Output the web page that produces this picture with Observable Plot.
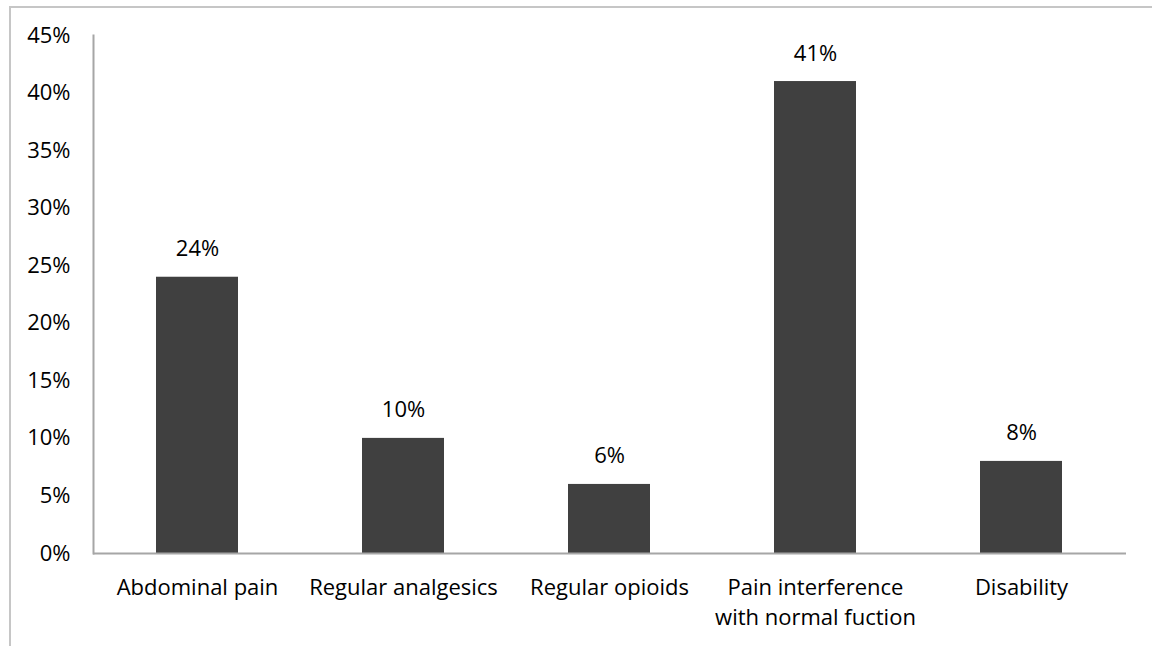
<!DOCTYPE html>
<html>
<head>
<meta charset="utf-8">
<script src="https://cdn.jsdelivr.net/npm/d3@7"></script>
<script src="https://cdn.jsdelivr.net/npm/@observablehq/plot@0.6"></script>
<style>
  html, body { margin: 0; padding: 0; background: #fff; }
  #wrap { position: relative; width: 1152px; height: 646px; overflow: hidden; }
  #frame { position: absolute; left: 9px; top: 6px; width: 1200px; height: 700px;
           border-left: 2px solid #c6c6c6; border-top: 2px solid #c6c6c6; }
  #chart { position: absolute; left: 0; top: 0; }
</style>
</head>
<body>
<div id="wrap"><div id="frame"></div><div id="chart"></div></div>
<script>
const categories = ["Abdominal pain", "Regular analgesics", "Regular opioids", "Pain interference\nwith normal fuction", "Disability"];
const values = [24, 10, 6, 41, 8];
const yTicks = [0, 5, 10, 15, 20, 25, 30, 35, 40, 45];

const data = categories.map((c, i) => ({category: c, value: values[i]}));
const font = "'Open Sans', sans-serif";

const chart = Plot.plot({
  width: 1152,
  height: 646,
  marginTop: 35,
  marginBottom: 93,
  marginLeft: 93,
  marginRight: 26,
  style: {fontFamily: font, fontSize: "22px", color: "#000", background: "transparent"},
  x: {domain: categories, paddingInner: 0.6, paddingOuter: 0.3, label: null},
  y: {domain: [0, 45], ticks: yTicks, label: null},
  marks: [
    Plot.axisY({ticks: yTicks, tickSize: 0, tickPadding: 23, tickFormat: d => d + "%", fontSize: 22, fill: "#000", label: null}),
    Plot.axisX({tickSize: 0, tickPadding: 20, fontSize: 22, fill: "#000", lineHeight: 1.36, label: null, textAnchor: "middle"}),
    Plot.barY(data, {x: "category", y: "value", fill: "#404040"}),
    Plot.ruleY([0], {stroke: "#a6a6a6", strokeWidth: 2}),
    Plot.frame({anchor: "left", stroke: "#a6a6a6", strokeWidth: 2}),
    Plot.text(data, {x: "category", y: "value", text: d => d.value + "%", dy: -28, fontSize: 22, fill: "#000"})
  ]
});
document.getElementById("chart").appendChild(chart);
</script>
</body>
</html>
